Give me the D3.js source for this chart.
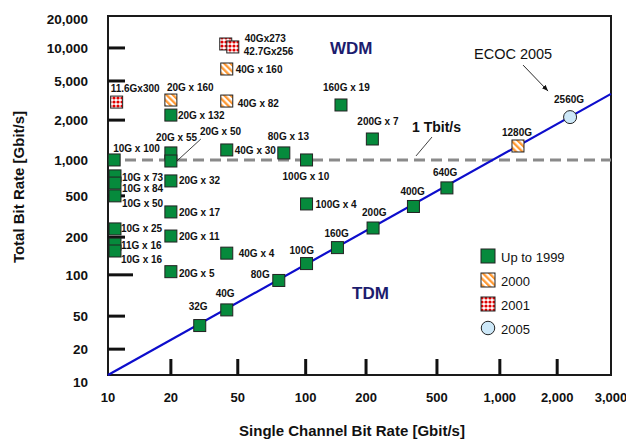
<!DOCTYPE html>
<html>
<head>
<meta charset="utf-8">
<script src="https://cdn.jsdelivr.net/npm/d3@7"></script>
<style>
  html, body { margin: 0; padding: 0; background: #fff; }
  svg { display: block; font-family: "Liberation Sans", Arial, Helvetica, sans-serif; }
</style>
</head>
<body>
<svg id="chart" width="626" height="439"></svg>
<script>
// ---- data ----
var xTickValues = [10, 20, 50, 100, 200, 500, 1000, 2000, 3000];
var yTickValues = [10, 20, 50, 100, 200, 500, 1000, 2000, 5000, 10000, 20000];
var legendLabels = ['Up to 1999', '2000', '2001', '2005'];

// [label, single channel bit rate, total bit rate]  (Gbit/s)
var wdm1999 = [
  ['10G x 100', 10.7, 1000], ['10G x 73', 10.8, 735], ['10G x 84', 10.8, 640],
  ['10G x 50', 10.8, 500], ['10G x 25', 10.8, 240], ['11G x 16', 10.8, 176],
  ['10G x 16', 10.8, 155], ['20G x 132', 20, 2250], ['20G x 55', 20, 1130],
  ['20G x 50', 20, 980], ['20G x 32', 20, 667], ['20G x 17', 20, 350],
  ['20G x 11', 20, 205], ['20G x 5', 20, 106], ['40G x 30', 43, 1190],
  ['40G x 4', 43, 149], ['80G x 13', 80, 1130], ['100G x 10', 101, 1000],
  ['100G x 4', 101, 418], ['160G x 19', 150, 2850], ['200G x 7', 217, 1440]
];
var tdm1999 = [
  ['32G', 29.7, 38.5], ['40G', 43, 55.5], ['80G', 76, 91], ['100G', 101, 123],
  ['160G', 144, 165], ['200G', 219, 245], ['400G', 369, 395], ['640G', 558, 583]
];
var year2000 = [
  ['20G x 160', 20, 3200], ['40G x 160', 43, 6430], ['40G x 82', 43, 3125], ['1280G', 1245, 1275]
];
var year2001 = [
  ['11.6Gx300', 11.0, 3050], ['40Gx273', 42.4, 10900], ['42.7Gx256', 46.7, 10220]
];
var year2005 = [
  ['2560G', 2204, 2146]
];
var tdmTrend = [[10, 10], [3000, 3700]];
var tbitLevel = 1000;

// ---- layout ----
var W = 626, H = 439;
var margin = {top: 16, right: 15, bottom: 64, left: 108};
var pw = W - margin.left - margin.right,
    ph = H - margin.top - margin.bottom;

// the original figure does not space its decades evenly,
// so the log scales are piecewise, pinned at each tick
var xStops = [0, .125, .258, .393, .513, .654, .779, .893, 1];
var yStops = [0, .072, .164, .279, .384, .499, .599, .710, .819, .911, 1];

var x = d3.scaleLog().domain(xTickValues).range(xStops.map(function(f){ return margin.left + f * pw; }));
var y = d3.scaleLog().domain(yTickValues).range(yStops.map(function(f){ return margin.top + ph - f * ph; }));

// label offsets from marker centre: [dx, dy]
var labelOffset = {
  '10G x 100': [-1, -8], '10G x 73': [7, 5], '10G x 84': [7, 9], '10G x 50': [7, 11],
  '10G x 25': [6, 3], '11G x 16': [6, 5], '10G x 16': [6, 12], '20G x 132': [7, 4],
  '20G x 55': [-15, -12], '20G x 50': [29, -26], '20G x 32': [8, 3], '20G x 17': [8, 4],
  '20G x 11': [8, 4], '20G x 5': [8, 5], '40G x 30': [8, 4], '40G x 4': [12, 4],
  '80G x 13': [-16, -13], '100G x 10': [-24, 20], '100G x 4': [9, 4],
  '160G x 19': [-18, -14], '200G x 7': [-15, -14],
  '32G': [-11, -16], '40G': [-11, -13], '80G': [-28, -2], '100G': [-17, -10],
  '160G': [-13, -11], '200G': [-11, -12], '400G': [-13, -11], '640G': [-14, -12],
  '20G x 160': [-4, -9], '40G x 160': [9, 4], '40G x 82': [11, 6], '1280G': [-16, -10],
  '11.6Gx300': [-6, -10], '40Gx273': [19, -2], '42.7Gx256': [11, 8], '2560G': [-16, -14]
};

var fills = {
  'Up to 1999': '#068a3c',
  '2000': 'url(#hatch)',
  '2001': 'url(#dots)',
  '2005': '#cde8f8'
};

var svg = d3.select('#chart');

// patterns
var defs = svg.append('defs');
var hatch = defs.append('pattern')
  .attr('id', 'hatch').attr('patternUnits', 'userSpaceOnUse')
  .attr('width', 4.5).attr('height', 4.5)
  .attr('patternTransform', 'rotate(-45)');
hatch.append('rect').attr('width', 4.5).attr('height', 4.5).attr('fill', '#fff');
hatch.append('rect').attr('width', 2.3).attr('height', 4.5).attr('fill', '#ff9933');

var dots = defs.append('pattern')
  .attr('id', 'dots').attr('patternUnits', 'userSpaceOnUse')
  .attr('width', 4).attr('height', 4);
dots.append('rect').attr('width', 4).attr('height', 4).attr('fill', '#fff');
dots.append('circle').attr('cx', 2).attr('cy', 2).attr('r', 1.6).attr('fill', '#e00000');

// frame
svg.append('rect')
  .attr('x', margin.left).attr('y', margin.top)
  .attr('width', pw).attr('height', ph)
  .attr('fill', 'none').attr('stroke', '#1a1a1a').attr('stroke-width', 2);

// tick marks drawn inside the frame
var yTickMarks = yTickValues.filter(function(v){ return v > 10 && v < 20000 && v !== tbitLevel; });
svg.append('g').selectAll('line').data(yTickMarks).join('line')
  .attr('x1', margin.left)
  .attr('x2', function(d){ return margin.left + (d === 100 ? 25 : 17); })
  .attr('y1', function(d){ return y(d); }).attr('y2', function(d){ return y(d); })
  .attr('stroke', '#111').attr('stroke-width', 3);

var xTickMarks = xTickValues.filter(function(v){ return v > 10 && v < 3000; });
svg.append('g').selectAll('line').data(xTickMarks).join('line')
  .attr('x1', function(d){ return x(d); }).attr('x2', function(d){ return x(d); })
  .attr('y1', margin.top + ph).attr('y2', margin.top + ph - 16)
  .attr('stroke', '#111').attr('stroke-width', 3);

// tick labels
var fmt = d3.format(',');
var yNudge = {10: 7, 20000: 3};
svg.append('g').selectAll('text').data(yTickValues).join('text')
  .attr('x', 88)
  .attr('y', function(d){ return y(d) + (yNudge[d] || 0); })
  .attr('dy', '0.36em')
  .attr('text-anchor', 'end')
  .attr('font-size', 13.5).attr('font-weight', 'bold').attr('fill', '#111')
  .text(function(d){ return fmt(d); });

svg.append('g').selectAll('text').data(xTickValues).join('text')
  .attr('x', function(d){ return x(d); })
  .attr('y', 402)
  .attr('text-anchor', 'middle')
  .attr('font-size', 13).attr('font-weight', 'bold').attr('fill', '#111')
  .text(function(d){ return fmt(d); });

// axis titles
svg.append('text')
  .attr('x', 352).attr('y', 436)
  .attr('text-anchor', 'middle')
  .attr('font-size', 15).attr('font-weight', 'bold').attr('fill', '#111')
  .text('Single Channel Bit Rate [Gbit/s]');

svg.append('text')
  .attr('transform', 'translate(24,187) rotate(-90)')
  .attr('text-anchor', 'middle')
  .attr('font-size', 15).attr('font-weight', 'bold').attr('fill', '#111')
  .text('Total Bit Rate [Gbit/s]');

// 1 Tbit/s level
svg.append('line')
  .attr('x1', margin.left).attr('x2', margin.left + pw)
  .attr('y1', y(tbitLevel)).attr('y2', y(tbitLevel))
  .attr('stroke', '#8a8a8a').attr('stroke-width', 3)
  .attr('stroke-dasharray', '11,6');

// TDM trend
svg.append('path')
  .datum(tdmTrend)
  .attr('d', d3.line().x(function(d){ return x(d[0]); }).y(function(d){ return y(d[1]); }))
  .attr('fill', 'none').attr('stroke', '#0d0dcc').attr('stroke-width', 2.2);

// markers
function drawMarker(g, kind, cx, cy, s) {
  if (kind === '2005') {
    g.append('circle').attr('cx', cx).attr('cy', cy).attr('r', s / 2 + 0.5)
      .attr('fill', fills[kind]).attr('stroke', '#222').attr('stroke-width', 1);
  } else {
    g.append('rect').attr('x', cx - s / 2).attr('y', cy - s / 2)
      .attr('width', s).attr('height', s)
      .attr('fill', fills[kind]).attr('stroke', '#222').attr('stroke-width', 1);
  }
}

var series = [
  ['Up to 1999', wdm1999], ['Up to 1999', tdm1999],
  ['2000', year2000], ['2001', year2001], ['2005', year2005]
];

var markG = svg.append('g');
var labelG = svg.append('g')
  .attr('font-size', 10).attr('font-weight', 'bold').attr('fill', '#111');

series.forEach(function(s) {
  s[1].forEach(function(p) {
    var cx = x(p[1]), cy = y(p[2]);
    drawMarker(markG, s[0], cx, cy, 12);
    var off = labelOffset[p[0]] || [8, 4];
    labelG.append('text').attr('x', cx + off[0]).attr('y', cy + off[1]).text(p[0]);
  });
});

// pointer for 20G x 50
var p50 = wdm1999.filter(function(p){ return p[0] === '20G x 50'; })[0];
svg.append('line')
  .attr('x1', x(p50[1]) + 30).attr('y1', y(p50[2]) - 22)
  .attr('x2', x(p50[1]) + 6).attr('y2', y(p50[2]))
  .attr('stroke', '#111').attr('stroke-width', 0.8);

// region names
svg.append('text').attr('x', 330).attr('y', 54)
  .attr('font-size', 17).attr('font-weight', 'bold').attr('fill', '#1c1c6e').text('WDM');
svg.append('text').attr('x', 352).attr('y', 299)
  .attr('font-size', 17).attr('font-weight', 'bold').attr('fill', '#1c1c6e').text('TDM');

// 1 Tbit/s annotation
svg.append('text').attr('x', 412).attr('y', 132)
  .attr('font-size', 14).attr('font-weight', 'bold').attr('fill', '#111').text('1 Tbit/s');
svg.append('line')
  .attr('x1', 432).attr('y1', 137).attr('x2', 416).attr('y2', y(tbitLevel) - 4)
  .attr('stroke', '#111').attr('stroke-width', 0.8);

// ECOC 2005 annotation
defs.append('marker')
  .attr('id', 'arrow').attr('viewBox', '0 0 10 10')
  .attr('refX', 10).attr('refY', 5)
  .attr('markerWidth', 7).attr('markerHeight', 7)
  .attr('orient', 'auto')
  .append('path').attr('d', 'M0,1L10,5L0,9Z').attr('fill', '#111');

var p05 = year2005[0];
svg.append('text').attr('x', 474).attr('y', 59)
  .attr('font-size', 14.5).attr('fill', '#111').text('ECOC 2005');
svg.append('line')
  .attr('x1', x(p05[1]) - 47).attr('y1', y(p05[2]) - 52)
  .attr('x2', x(p05[1]) - 22).attr('y2', y(p05[2]) - 26)
  .attr('stroke', '#111').attr('stroke-width', 0.9)
  .attr('marker-end', 'url(#arrow)');

// legend
var legend = svg.append('g').attr('transform', 'translate(488,256)');
legendLabels.forEach(function(lab, i) {
  var row = legend.append('g').attr('transform', 'translate(0,' + (i * 24) + ')');
  drawMarker(row, lab, 0, 0, lab === '2005' ? 12.5 : 14);
  row.append('text').attr('x', 13).attr('y', 6)
    .attr('font-size', 13).attr('fill', '#111').text(lab);
});
</script>
</body>
</html>
